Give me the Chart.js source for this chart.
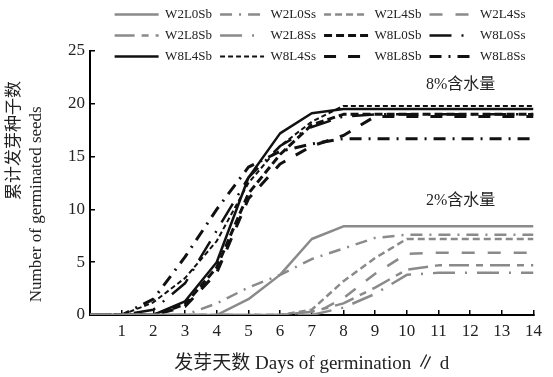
<!DOCTYPE html>
<html><head><meta charset="utf-8">
<script src="https://cdn.jsdelivr.net/npm/chart.js@4.4.1/dist/chart.umd.min.js"></script>
<style>html,body{margin:0;padding:0;background:#fff}#wrap{width:553px;height:377px}</style>
</head><body><div id="wrap"><canvas id="c" width="553" height="377"></canvas></div>
<script>
// ---- data ----
const days = [0,1,2,3,4,5,6,7,8,9,10,11,12,13,14];
const seriesNames = ['W2L0Sb','W2L0Ss','W2L4Sb','W2L4Ss','W2L8Sb','W2L8Ss','W8L0Sb','W8L0Ss','W8L4Sb','W8L4Ss','W8L8Sb','W8L8Ss'];
const W2L0Sb = [0,0,0,0,0,1.5,3.8,7.2,8.4,8.4,8.4,8.4,8.4,8.4,8.4];
const W2L0Ss = [0,0,0,0,1.1,2.6,3.8,5.3,6.3,7.3,7.6,7.6,7.6,7.6,7.6];
const W2L4Sb = [0,0,0,0,0,0,0,0.5,3.2,5.4,7.2,7.2,7.2,7.2,7.2];
const W2L4Ss = [0,0,0,0,0,0,0,0,1.6,3.9,5.8,5.9,5.9,5.9,5.9];
const W2L8Sb = [0,0,0,0,0,0,0,0.3,1.1,2.6,4.3,4.7,4.7,4.7,4.7];
const W2L8Ss = [0,0,0,0,0,0,0,0,0.7,2.0,3.8,4.0,4.0,4.0,4.0];
const W8L0Sb = [0,0,0,1.0,4.5,11.5,15.2,18.0,19.0,19.0,19.0,19.0,19.0,19.0,19.0];
const W8L0Ss = [0,0,0.5,3.0,8.0,13.0,16.0,17.8,18.8,19.0,19.0,19.0,19.0,19.0,19.0];
const W8L4Sb = [0,0,0,1.3,5.0,13.0,17.2,19.1,19.5,19.5,19.5,19.5,19.5,19.5,19.5];
const W8L4Ss = [0,0,1.2,3.5,7.0,12.5,16.0,18.3,19.8,19.8,19.8,19.8,19.8,19.8,19.8];
const W8L8Sb = [0,0,0,0.8,4.0,11.0,14.3,16.0,17.0,18.8,18.8,18.8,18.8,18.8,18.8];
const W8L8Ss = [0,0,1.5,5.5,10.0,14.0,15.5,16.2,16.7,16.7,16.7,16.7,16.7,16.7,16.7];
const seriesValues = [W2L0Sb,W2L0Ss,W2L4Sb,W2L4Ss,W2L8Sb,W2L8Ss,W8L0Sb,W8L0Ss,W8L4Sb,W8L4Ss,W8L8Sb,W8L8Ss];
const yTickValues = [0,5,10,15,20,25];
const xTickValues = [1,2,3,4,5,6,7,8,9,10,11,12,13,14];
const annotationTexts = ['8%含水量','2%含水量'];
const annotationDays = [11.7, 11.7];
const annotationValues = [21.8, 10.8];

// ---- styles ----
const GRAY = '#8a8a8a', BLACK = '#111111';
const styles = [
  {c:GRAY, w:2.5, d:[]},
  {c:GRAY, w:2.5, d:[12,7,2,7]},
  {c:GRAY, w:2.5, d:[7,4]},
  {c:GRAY, w:2.5, d:[13,13]},
  {c:GRAY, w:2.5, d:[20,7,7,7]},
  {c:GRAY, w:2.5, d:[22,10,2,10]},
  {c:BLACK, w:3, d:[8,4]},
  {c:BLACK, w:2.5, d:[22,10,2,10]},
  {c:BLACK, w:2.5, d:[]},
  {c:BLACK, w:2, d:[5,3]},
  {c:BLACK, w:3, d:[12,12]},
  {c:BLACK, w:3, d:[12,7,2,7]}
];

const serif = "'Liberation Serif', 'Noto Sans CJK SC', serif";

const annotPlugin = {
  id: 'annot',
  afterLayout(chart) {
    // let the legend's third row overlap the top of the plot, as in the original
    const lg = chart.legend;
    if (lg) { lg.bottom = lg.top + 75; lg.height = 75; }
  },
  afterDatasetsDraw(chart) {
    const {ctx, scales} = chart;
    ctx.save();
    ctx.font = "16px " + serif;
    ctx.fillStyle = '#222';
    ctx.textAlign = 'center';
    ctx.textBaseline = 'middle';
    annotationTexts.forEach((t, i) => {
      ctx.fillText(t, scales.x.getPixelForValue(annotationDays[i]), scales.y.getPixelForValue(annotationValues[i]));
    });
    ctx.restore();
  }
};

const datasets = seriesNames.map((name, i) => ({
  label: name,
  data: days.map((d, j) => ({x: d, y: seriesValues[i][j]})),
  borderColor: styles[i].c,
  backgroundColor: styles[i].c,
  borderWidth: styles[i].w,
  borderDash: styles[i].d,
  pointRadius: 0,
  pointStyle: 'line',
  fill: false,
  tension: 0,
  borderJoinStyle: 'round'
}));

new Chart(document.getElementById('c'), {
  type: 'line',
  data: {datasets},
  options: {
    responsive: false,
    animation: false,
    devicePixelRatio: 1,
    layout: {padding: {top: 0, left: 0, right: 0, bottom: 0}},
    plugins: {
      tooltip: {enabled: false},
      legend: {
        position: 'top',
        fullSize: false,
        align: 'end',
        maxHeight: 51,
        labels: {
          usePointStyle: true,
          pointStyle: 'line',
          pointStyleWidth: 44,
          padding: 8,
          color: '#222',
          font: {family: serif, size: 13},
          generateLabels: chart => chart.data.datasets.map((ds, i) => ({
            text: ds.label,
            fillStyle: ds.borderColor,
            strokeStyle: ds.borderColor,
            lineWidth: ds.borderWidth,
            lineDash: ds.borderDash,
            lineCap: 'butt',
            pointStyle: 'line',
            fontColor: '#222',
            hidden: false,
            datasetIndex: i
          }))
        }
      }
    },
    scales: {
      x: {
        type: 'linear',
        min: 0, max: 14,
        afterBuildTicks: s => { s.ticks = [0].concat(xTickValues).map(v => ({value: v})); },
        ticks: {
          callback: v => (v === 0 ? '' : v),
          autoSkip: false, maxRotation: 0,
          padding: 11,
          color: '#222',
          font: {family: serif, size: 17}
        },
        grid: {drawOnChartArea: false, tickLength: -5, color: '#000', lineWidth: 1.5},
        border: {color: '#000', width: 2},
        title: {display: true, text: '发芽天数 Days of germination ∥ d', color: '#222', font: {family: serif, size: 19}, padding: {top: 0, bottom: 2}},
        afterFit: s => { s.height = 62; }
      },
      y: {
        type: 'linear',
        min: 0, max: 25,
        afterBuildTicks: s => { s.ticks = yTickValues.map(v => ({value: v})); },
        ticks: {
          padding: 10,
          color: '#222',
          font: {family: serif, size: 17}
        },
        grid: {drawOnChartArea: false, tickLength: -5, color: '#000', lineWidth: 1.5},
        border: {color: '#000', width: 2},
        title: {
          display: true,
          text: ['\u3000\u3000\u3000\u3000\u3000累计发芽种子数', 'Number of germinated seeds          '],
          color: '#222',
          font: {family: serif, size: 17, lineHeight: 1.3},
          padding: {top: 3, bottom: 0}
        },
        afterFit: s => { s.width = 90; }
      }
    }
  },
  plugins: [annotPlugin]
});
</script>
</body></html>
